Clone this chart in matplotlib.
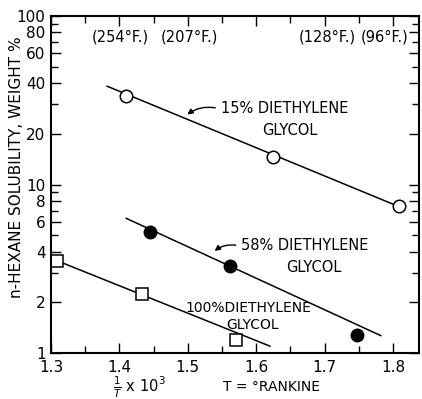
import matplotlib
matplotlib.use("Agg")
import matplotlib.pyplot as plt
from matplotlib.ticker import FixedLocator, NullFormatter

# data
x15 = [1.41, 1.625, 1.808]
y15 = [33.4, 14.5, 7.5]
line15_x = [1.382, 1.812]
line15_y = [38.3, 7.3]

x58 = [1.445, 1.562, 1.748]
y58 = [5.25, 3.3, 1.28]
line58_x = [1.41, 1.782]
line58_y = [6.3, 1.27]

x100 = [1.309, 1.433, 1.57]
y100 = [3.5, 2.24, 1.2]
line100_x = [1.3, 1.62]
line100_y = [3.65, 1.1]

temp_labels = ["(254°F.)", "(207°F.)", "(128°F.)", "(96°F.)"]
temp_pos = [1.401, 1.503, 1.704, 1.788]

y_major = [1, 2, 4, 6, 8, 10, 20, 40, 60, 80, 100]
y_minor = [3, 5, 7, 9, 30, 50, 70, 90]
x_major = [1.3, 1.4, 1.5, 1.6, 1.7, 1.8]
x_minor = [1.35, 1.45, 1.55, 1.65, 1.75]

fig = plt.figure(figsize=(4.22, 3.99), dpi=100)
ax = fig.add_axes([0.121, 0.115, 0.872, 0.845])

ax.plot(line15_x, line15_y, color="black", lw=1.1)
ax.plot(line58_x, line58_y, color="black", lw=1.1)
ax.plot(line100_x, line100_y, color="black", lw=1.1)

ax.plot(x15, y15, "o", ms=9, mfc="white", mec="black", mew=1.1, ls="none")
ax.plot(x58, y58, "o", ms=9, mfc="black", mec="black", ls="none")
ax.plot(x100, y100, "s", ms=8.5, mfc="white", mec="black", mew=1.1, ls="none")

ax.set_yscale("log")
ax.set_ylim(1, 100)
ax.set_xlim(1.3, 1.838)

ax.yaxis.set_major_locator(FixedLocator(y_major))
ax.yaxis.set_minor_locator(FixedLocator(y_minor))
ax.set_yticklabels([str(v) for v in y_major])
ax.yaxis.set_minor_formatter(NullFormatter())
ax.xaxis.set_major_locator(FixedLocator(x_major))
ax.xaxis.set_minor_locator(FixedLocator(x_minor))
ax.set_xticklabels([str(v) for v in x_major])

ax.tick_params(which="both", direction="in", top=True, right=True,
               labelsize=11, width=1.0)
ax.tick_params(axis="y", pad=4)
ax.tick_params(axis="x", pad=5)
ax.tick_params(which="major", length=7)
ax.tick_params(which="minor", length=5)
for s in ax.spines.values():
    s.set_linewidth(1.5)

for lbl, xp in zip(temp_labels, temp_pos):
    ax.text(xp, 75, lbl, ha="center", va="center", fontsize=10.5)

# 15% label
ax.text(1.549, 28.3, "15% DIETHYLENE", fontsize=10.5, va="center", ha="left")
ax.text(1.609, 21.0, "GLYCOL", fontsize=10.5, va="center", ha="left")
ax.annotate("", xy=(1.496, 25.4), xytext=(1.544, 28.3),
            arrowprops=dict(arrowstyle="-|>", color="black", lw=1.0,
                            connectionstyle="arc3,rad=0.25", mutation_scale=8))
# 58% label
ax.text(1.578, 4.34, "58% DIETHYLENE", fontsize=10.5, va="center", ha="left")
ax.text(1.644, 3.2, "GLYCOL", fontsize=10.5, va="center", ha="left")
ax.annotate("", xy=(1.536, 3.94), xytext=(1.574, 4.34),
            arrowprops=dict(arrowstyle="-|>", color="black", lw=1.0,
                            connectionstyle="arc3,rad=0.25", mutation_scale=8))
# 100% label
ax.text(1.497, 1.85, "100%DIETHYLENE", fontsize=10, va="center", ha="left")
ax.text(1.556, 1.47, "GLYCOL", fontsize=10, va="center", ha="left")

fig.text(0.04, 0.58, "n-HEXANE SOLUBILITY, WEIGHT %", fontsize=11,
         rotation=90, ha="center", va="center")
fig.text(0.33, 0.03, r"$\frac{1}{T}$ x 10$^3$", fontsize=10.5, ha="center", va="center")
fig.text(0.644, 0.03, "T = °RANKINE", fontsize=10, ha="center", va="center")

fig.savefig("out.png", dpi=100)
